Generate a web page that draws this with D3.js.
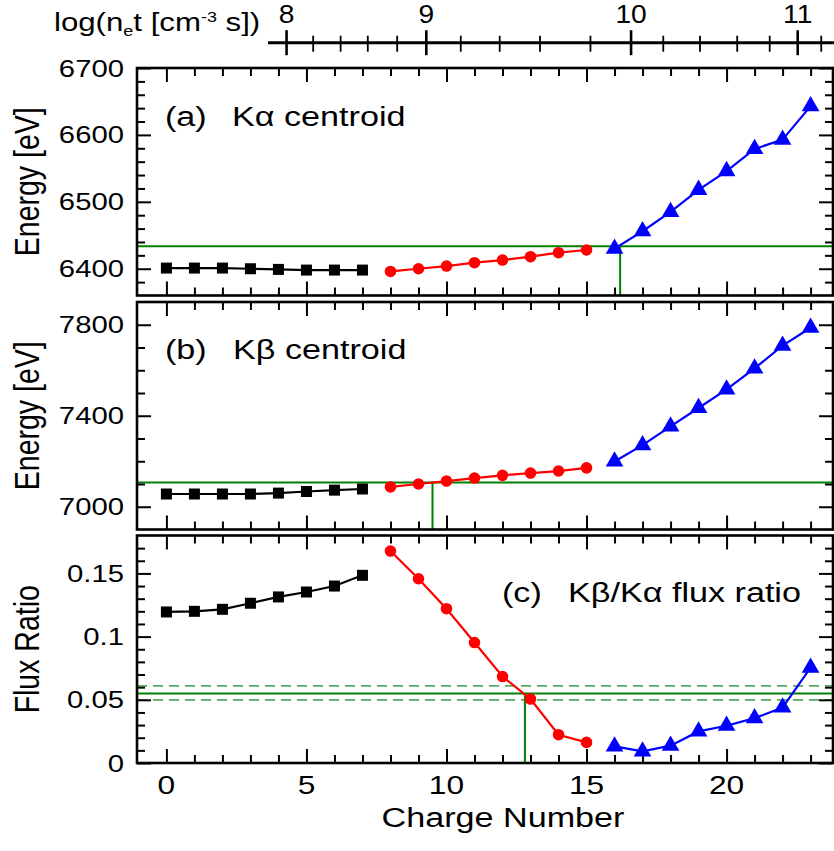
<!DOCTYPE html>
<html><head><meta charset="utf-8">
<script src="https://cdn.jsdelivr.net/npm/d3@7"></script>
<style>body{margin:0;background:#fff}</style>
</head><body>
<svg id="chart" width="834" height="851"></svg>
<script>
// ---------------- data ----------------
const chargeNeutral = [0, 1, 2, 3, 4, 5, 6, 7];
const chargeMid     = [8, 9, 10, 11, 12, 13, 14, 15];
const chargeHigh    = [16, 17, 18, 19, 20, 21, 22, 23];

const kaNeutral = [6401, 6401, 6401, 6400, 6399, 6398, 6398, 6398];
const kaMid     = [6396, 6400, 6404, 6409, 6413, 6418, 6424, 6428];
const kaHigh    = [6430, 6456, 6485, 6518, 6546, 6579, 6593, 6643];

const kbNeutral = [7056, 7056, 7056, 7056, 7060, 7067, 7073, 7078];
const kbMid     = [7087, 7100, 7113, 7126, 7138, 7148, 7157, 7171];
const kbHigh    = [7199, 7271, 7353, 7434, 7516, 7608, 7708, 7787];

const ratioNeutral = [0.1195, 0.1200, 0.1216, 0.1264, 0.1314, 0.1353, 0.1400, 0.1485];
const ratioMid     = [0.1677, 0.1458, 0.1221, 0.0953, 0.0684, 0.0506, 0.0224, 0.0163];
const ratioHigh    = [0.0131, 0.0092, 0.0137, 0.0250, 0.0295, 0.0355, 0.0439, 0.0755];

// observed values (green guides) and their matching charge
const kaObserved = 6433.5, kaObsCharge = 16.2;
const kbObserved = 7107,   kbObsCharge = 9.5;
const ratioObserved = 0.055, ratioLow = 0.050, ratioHigh2 = 0.061, ratioObsCharge = 12.8;

// tick labels
const chargeTickLabels = [0, 5, 10, 15, 20];
const kaTickLabels = [6400, 6500, 6600, 6700];
const kbTickLabels = [7000, 7400, 7800];
const ratioTickLabels = [0, 0.05, 0.1, 0.15];
const ratioTickText = ["0", "0.05", "0.1", "0.15"];

// top axis: log(n_e t) values and their position on the charge axis
const logNetTicks    = [8, 8.2, 8.4, 8.6, 8.8, 9, 9.2, 9.4, 9.6, 9.8, 10, 10.2, 10.4, 10.6, 10.8, 11, 11.2];
const logNetAtCharge = [4.29, 5.24, 6.22, 7.19, 8.24, 9.28, 10.51, 11.90, 13.34, 15.14, 16.59, 17.74, 19.05, 20.38, 21.54, 22.54, 23.38];
const logNetLabels   = [8, 9, 10, 11];

// ---------------- layout ----------------
const FONT = "'Liberation Sans', Arial, Helvetica, sans-serif";
const SX = 1.22;               // horizontal stretch of lettering
const svg = d3.select('#chart');
const x = d3.scaleLinear().domain([-1.05, 23.8]).range([137, 833]);
const xL = x.range()[0], xR = x.range()[1];

const panels = [
  { top: 68,  bottom: 295.5, domain: [6360, 6700], labels: kaTickLabels, text: kaTickLabels.map(String),
    minorStep: 20, series: [kaNeutral, kaMid, kaHigh], obs: kaObserved, obsCharge: kaObsCharge,
    title: "Energy [eV]", tagA: "(a)", tagB: "Kα centroid", tagX: 165, tagX2: 232, tagY: 126 },
  { top: 302, bottom: 529.5, domain: [6900, 7900], labels: kbTickLabels, text: kbTickLabels.map(String),
    minorStep: 100, series: [kbNeutral, kbMid, kbHigh], obs: kbObserved, obsCharge: kbObsCharge,
    title: "Energy [eV]", tagA: "(b)", tagB: "Kβ centroid", tagX: 165, tagX2: 233, tagY: 359 },
  { top: 535.5, bottom: 763, domain: [0, 0.18], labels: ratioTickLabels, text: ratioTickText,
    minorStep: 0.01, series: [ratioNeutral, ratioMid, ratioHigh], obs: ratioObserved, obsCharge: ratioObsCharge,
    dashed: [ratioLow, ratioHigh2],
    title: "Flux Ratio", tagA: "(c)", tagB: "Kβ/Kα flux ratio", tagX: 502, tagX2: 568, tagY: 602 }
];
const charges = [chargeNeutral, chargeMid, chargeHigh];
const colors = ['#000000', '#ff0000', '#0000ff'];
const symbols = [d3.symbol().type(d3.symbolSquare).size(121),
                 d3.symbol().type(d3.symbolCircle).size(105),
                 d3.symbol().type(d3.symbolTriangle).size(135)];
const GREEN = '#008000', LGREEN = '#5aa95a';

function label(g, str, px, py, size, anchor, sx) {
  return g.append('text')
    .attr('transform', `translate(${px},${py}) scale(${sx || SX},1)`)
    .attr('text-anchor', anchor || 'start')
    .attr('font-family', FONT).attr('font-size', size).attr('fill', '#000')
    .text(str);
}
function ticks(g, axisFn, scale, values, len) {
  g.call(axisFn(scale).tickValues(values).tickSizeInner(-len).tickSizeOuter(0).tickFormat(''));
  g.select('.domain').remove();
  g.selectAll('line').attr('stroke', '#000').attr('stroke-width', 2);
}

const xMajor = chargeTickLabels;
const xMinor = d3.range(0, 24).filter(v => v % 5 !== 0);

panels.forEach((p, i) => {
  const y = d3.scaleLinear().domain(p.domain).range([p.bottom, p.top]);
  const g = svg.append('g');

  // green guides
  g.append('line').attr('x1', xL).attr('x2', xR).attr('y1', y(p.obs)).attr('y2', y(p.obs))
    .attr('stroke', GREEN).attr('stroke-width', 2);
  if (p.dashed) p.dashed.forEach(v => {
    g.append('line').attr('x1', xL).attr('x2', xR).attr('y1', y(v)).attr('y2', y(v))
      .attr('stroke', LGREEN).attr('stroke-width', 1.8).attr('stroke-dasharray', '10,6');
  });
  g.append('line').attr('x1', x(p.obsCharge)).attr('x2', x(p.obsCharge))
    .attr('y1', y(p.obs)).attr('y2', p.bottom).attr('stroke', GREEN).attr('stroke-width', 2);

  // ticks
  const yMinor = d3.range(p.domain[0], p.domain[1] + 1e-9, p.minorStep)
    .map(v => +v.toFixed(4))
    .filter(v => v > p.domain[0] + 1e-9 && v < p.domain[1] - 1e-9 && !p.labels.some(l => Math.abs(l - v) < 1e-9));
  ticks(g.append('g').attr('transform', `translate(0,${p.bottom})`), d3.axisBottom, x, xMajor, 14);
  ticks(g.append('g').attr('transform', `translate(0,${p.bottom})`), d3.axisBottom, x, xMinor, 8);
  ticks(g.append('g').attr('transform', `translate(0,${p.top})`), d3.axisTop, x, xMajor, 14);
  ticks(g.append('g').attr('transform', `translate(0,${p.top})`), d3.axisTop, x, xMinor, 8);
  ticks(g.append('g').attr('transform', `translate(${xL},0)`), d3.axisLeft, y, p.labels, 14);
  ticks(g.append('g').attr('transform', `translate(${xL},0)`), d3.axisLeft, y, yMinor, 8);
  ticks(g.append('g').attr('transform', `translate(${xR},0)`), d3.axisRight, y, p.labels, 14);
  ticks(g.append('g').attr('transform', `translate(${xR},0)`), d3.axisRight, y, yMinor, 8);

  // y tick labels
  p.labels.forEach((v, k) => label(svg, p.text[k], 124, y(v) + 8.5, 24, 'end'));

  // series
  p.series.forEach((vals, s) => {
    const pts = charges[s].map((c, k) => [x(c), y(vals[k])]);
    g.append('path').attr('d', d3.line()(pts)).attr('fill', 'none')
      .attr('stroke', colors[s]).attr('stroke-width', 2.2);
    g.selectAll(null).data(pts).enter().append('path')
      .attr('transform', d => `translate(${d[0]},${d[1]})`)
      .attr('d', symbols[s]()).attr('fill', colors[s]);
  });

  // frame
  g.append('rect').attr('x', xL).attr('y', p.top).attr('width', xR - xL).attr('height', p.bottom - p.top)
    .attr('fill', 'none').attr('stroke', '#000').attr('stroke-width', 2.6);

  // panel tag
  label(svg, p.tagA, p.tagX, p.tagY, 28, 'start');
  label(svg, p.tagB, p.tagX2, p.tagY, 28, 'start');

  // y title (rotated)
  const cy = (p.top + p.bottom) / 2;
  svg.append('text')
    .attr('transform', `translate(39,${cy}) scale(${SX},1) rotate(-90)`)
    .attr('text-anchor', 'middle').attr('font-family', FONT).attr('font-size', 28.5)
    .text(p.title);
});

// bottom tick labels & title
chargeTickLabels.forEach(v => label(svg, String(v), x(v), 794, 26, 'middle'));
label(svg, 'Charge Number', 503, 827, 28, 'middle');

// top log(n_e t) axis
const topY = 42.7;
const topG = svg.append('g');
topG.append('line').attr('x1', 268).attr('x2', 834).attr('y1', topY).attr('y2', topY)
  .attr('stroke', '#000').attr('stroke-width', 3);
logNetTicks.forEach((v, k) => {
  const major = logNetLabels.includes(v);
  topG.append('line').attr('x1', x(logNetAtCharge[k])).attr('x2', x(logNetAtCharge[k]))
    .attr('y1', topY - (major ? 12.5 : 7)).attr('y2', topY + (major ? 12.5 : 9))
    .attr('stroke', '#000').attr('stroke-width', major ? 2.6 : 1.8);
  if (major) label(svg, String(v), x(logNetAtCharge[k]), 23.3, 25.6, 'middle', 1.1);
});
// axis title with sub/superscript
const tt = svg.append('text')
  .attr('transform', `translate(54,31) scale(1.2,1)`)
  .attr('font-family', FONT).attr('font-size', 26);
tt.append('tspan').text('log(n');
tt.append('tspan').attr('font-size', 15).attr('dy', 5).text('e');
tt.append('tspan').attr('dy', -5).text('t [cm');
tt.append('tspan').attr('font-size', 15).attr('dy', -9).text('-3');
tt.append('tspan').attr('dy', 9).text(' s])');
</script>
</body></html>
